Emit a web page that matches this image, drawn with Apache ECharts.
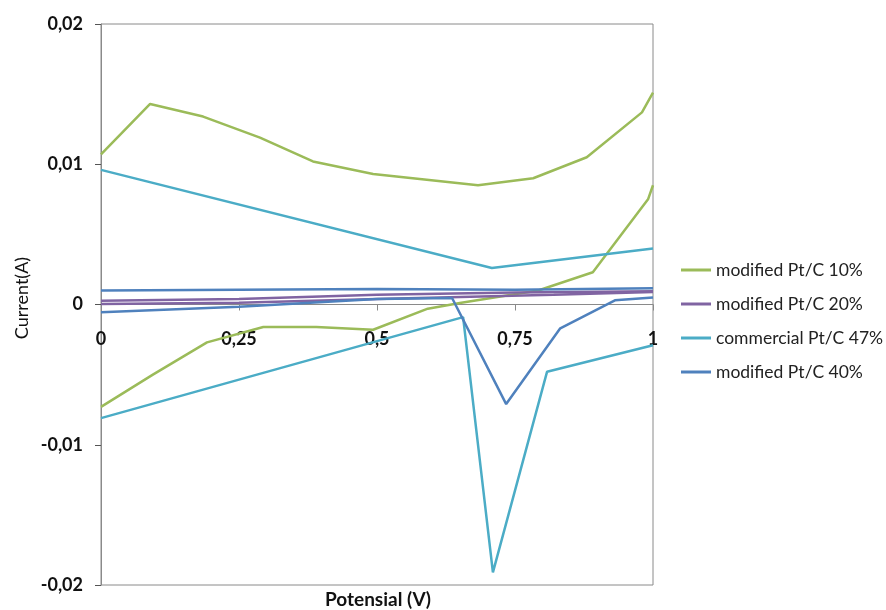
<!DOCTYPE html>
<html>
<head>
<meta charset="utf-8">
<script src="https://cdn.jsdelivr.net/npm/echarts@6/dist/echarts.min.js"></script>
<style>
html,body{margin:0;padding:0;background:#fff;}
#chart{width:886px;height:610px;}
</style>
</head>
<body>
<div id="chart"></div>
<script>
// Series names (legend order)
const seriesNames = ['modified Pt/C 10%', 'modified Pt/C 20%', 'commercial Pt/C 47%', 'modified Pt/C 40%'];
const seriesColors = ['#9BBB59', '#8064A2', '#4BACC6', '#4F81BD'];

// [potential (V), current (A)] — each scan split into two branches
const pt10Upper = [[0,0.0107],[0.089,0.0143],[0.185,0.0134],[0.288,0.0119],[0.384,0.0102],[0.493,0.0093],[0.683,0.0085],[0.783,0.0090],[0.88,0.0105],[0.98,0.0137],[1,0.0151]];
const pt10Lower = [[0,-0.0073],[0.094,-0.0050],[0.192,-0.0027],[0.294,-0.0016],[0.39,-0.0016],[0.493,-0.0018],[0.592,-0.0003],[0.65,0.0001],[0.792,0.0010],[0.891,0.0023],[0.991,0.0075],[1,0.0085]];

const pt20Upper = [[0,0.00027],[0.25,0.0004],[0.5,0.0007],[0.75,0.00085],[1,0.00095]];
const pt20Lower = [[0,0.00003],[0.25,0.00013],[0.5,0.0004],[0.82,0.0007],[1,0.0009]];

const pt47Upper = [[0,0.0096],[0.708,0.0026],[1,0.0040]];
const pt47Lower = [[0,-0.0081],[0.656,-0.0009],[0.71,-0.0191],[0.808,-0.0048],[1,-0.0029]];

const pt40Upper = [[0,0.0010],[0.5,0.0011],[0.75,0.00105],[1,0.00115]];
const pt40Lower = [[0,-0.00056],[0.25,-0.00016],[0.5,0.0004],[0.636,0.00046],[0.734,-0.0071],[0.832,-0.0017],[0.931,0.0003],[1,0.0005]];

const branches = [
  [0, pt10Upper], [0, pt10Lower],
  [1, pt20Upper], [1, pt20Lower],
  [2, pt47Upper], [2, pt47Lower],
  [3, pt40Upper], [3, pt40Lower]
];

const fmt = v => (v === 0 ? '0' : String(+v.toFixed(4)).replace('.', ','));
const FONT = 'Lato, "Open Sans", sans-serif';
const GRID_TOP = 24, GRID_BOTTOM = 25, H = 610;
// offset that moves the x axis from the grid bottom up to y = 0
const zeroOffset = -((H - GRID_BOTTOM) - (GRID_TOP + (H - GRID_BOTTOM - GRID_TOP) / 2));

const chart = echarts.init(document.getElementById('chart'), null, {renderer: 'canvas'});
chart.setOption({
  animation: false,
  backgroundColor: '#fff',
  grid: {left: 101, right: 233, top: GRID_TOP, bottom: GRID_BOTTOM, show: true, borderColor: '#8a8a8a', borderWidth: 1,
         containLabel: false, outerBoundsMode: 'none'},
  legend: {
    orient: 'vertical', left: 676, top: 256,
    data: seriesNames,
    icon: 'rect',
    itemWidth: 30, itemHeight: 3, itemGap: 16,
    textStyle: {fontFamily: FONT, fontSize: 17.5, color: '#222', lineHeight: 18}
  },
  xAxis: {
    type: 'value', min: 0, max: 1, interval: 0.25,
    position: 'bottom', offset: zeroOffset,
    axisLine: {onZero: false, lineStyle: {color: '#8a8a8a', width: 1}},
    axisTick: {show: true, length: 6, lineStyle: {color: '#8a8a8a'}},
    axisLabel: {margin: 26, formatter: fmt, fontFamily: FONT, fontSize: 18, fontWeight: 'bold', color: '#111'},
    splitLine: {show: false}
  },
  yAxis: {
    type: 'value', min: -0.02, max: 0.02, interval: 0.01,
    axisLine: {show: true, lineStyle: {color: '#8a8a8a', width: 1}},
    axisTick: {show: true, length: 6, lineStyle: {color: '#555'}},
    axisLabel: {margin: 18, formatter: fmt, fontFamily: FONT, fontSize: 18, fontWeight: 'bold', color: '#111'},
    splitLine: {show: false}
  },
  graphic: [
    {type: 'text', x: 378, y: 600, style: {text: 'Potensial (V)', font: 'bold 19px ' + FONT, fill: '#111', align: 'center', verticalAlign: 'middle'}},
    {type: 'text', x: 22, y: 298, rotation: Math.PI / 2, style: {text: 'Current(A)', font: '18px ' + FONT, fill: '#111', align: 'center', verticalAlign: 'middle'}}
  ],
  series: branches.map(([k, d]) => ({
    name: seriesNames[k],
    type: 'line',
    data: d,
    symbol: 'none',
    color: seriesColors[k],
    lineStyle: {width: 2.5, color: seriesColors[k]},
    z: 2
  }))
});
</script>
</body>
</html>
